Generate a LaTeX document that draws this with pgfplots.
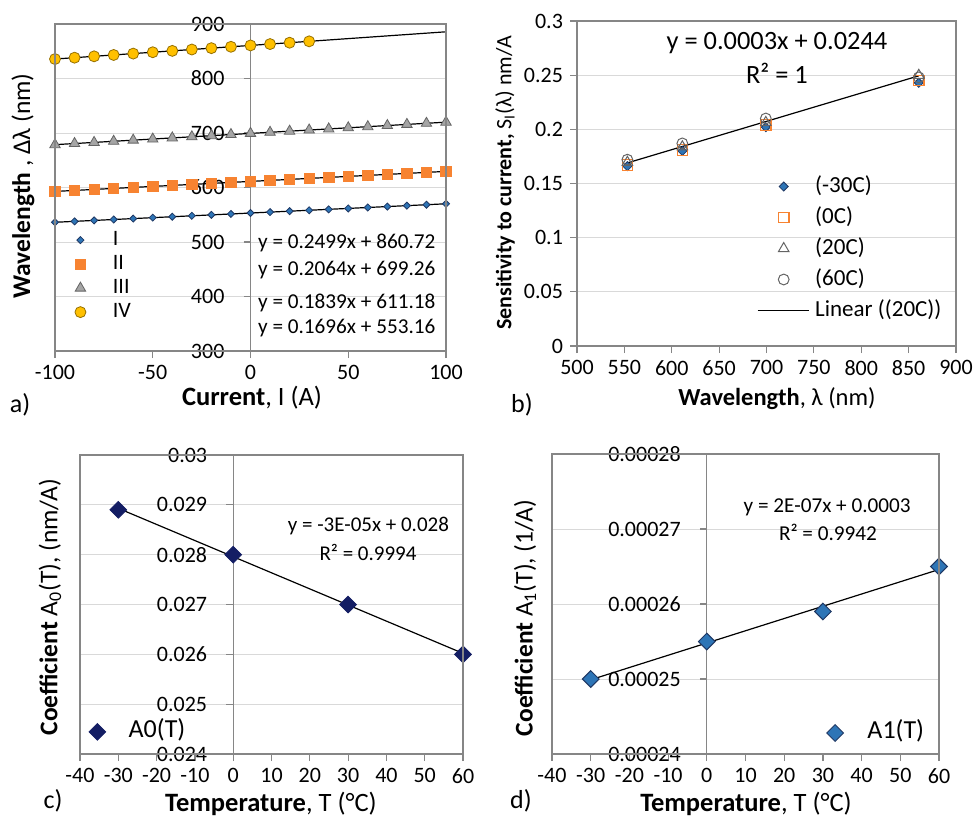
\documentclass[border=0pt]{standalone}
\usepackage{fontspec}
\setmainfont{Carlito}
\usepackage{pgfplots}
\pgfplotsset{compat=1.18}

\definecolor{axgray}{RGB}{134,134,134}
\definecolor{gridgray}{RGB}{217,217,217}
\definecolor{blueA}{RGB}{46,117,182}
\definecolor{blueB}{RGB}{31,56,100}
\definecolor{orangeA}{RGB}{247,131,49}
\definecolor{grayA}{RGB}{165,165,165}
\definecolor{grayB}{RGB}{100,100,100}
\definecolor{goldA}{RGB}{255,192,0}
\definecolor{goldB}{RGB}{150,112,0}
\definecolor{navy}{RGB}{20,30,100}

\newcommand{\ticksize}{\fontsize{11}{13}\selectfont}
\newcommand{\labsize}{\fontsize{13.25}{15}\selectfont}
\newcommand{\ylabsize}{\fontsize{12.75}{15}\selectfont}

\pgfplotsset{
  excelbase/.style={
    scale only axis, clip=false,
    axis line style={-, axgray, line width=0.6pt},
    major tick style={axgray, line width=0.6pt},
    major tick length=3.5pt,
    ymajorgrids, grid style={gridgray, line width=0.5pt},
    tick label style={font=\ticksize, text=black},
    x tick label style={yshift=-2.5pt, inner ysep=1pt},
    /pgf/number format/assume math mode=true,
    scaled ticks=false,
    legend cell align=left,
    legend style={draw=none, fill=none, inner sep=0pt, outer sep=0pt,
      column sep=7pt,
      nodes={inner sep=0pt, text height=8pt, text depth=2.5pt}},
  },
  crossaxis/.style={excelbase,
    axis x line=bottom, axis y line=middle,
    every inner y axis line/.append style={-},
    every outer x axis line/.append style={-},
    hide obscured x ticks=false, hide obscured y ticks=false,
    xtick align=outside, ytick align=outside,
    y tick label style={xshift=-6pt},
    after end axis/.code={\draw[axgray, line width=0.6pt]
      (rel axis cs:0,0) rectangle (rel axis cs:1,1);},
  },
  trend/.style={black, line width=0.6pt, forget plot},
  longline legend/.style={legend image code/.code={\draw[##1] (-4.5pt,0pt) -- (21pt,0pt);}},
}
\tikzset{axtitle/.style={inner sep=0pt, outer sep=0pt}}

\begin{document}
\begin{tikzpicture}
\path[use as bounding box] (0pt,0pt) rectangle (486.5pt,408pt);

% ---------------- a) wavelength vs current ----------------
\begin{axis}[crossaxis, at={(27.5pt,232.5pt)}, anchor=south west,
  width=195.5pt, height=163.5pt,
  xmin=-100, xmax=100, ymin=300, ymax=900,
  xtick={-100,-50,0,50,100}, ytick={300,400,500,600,700,800,900},
  legend style={at={(0.051,0.229)}, anchor=west, font=\ticksize,
    row sep=1.5pt, column sep=13.5pt}]
\addplot[only marks, mark=square*, mark size=1.25pt,
  mark options={rotate=45, fill=blueA, draw=blueB, line width=0.4pt}] table {
x y
-100 536.2
-90 537.9
-80 539.6
-70 541.3
-60 543.0
-50 544.7
-40 546.4
-30 548.1
-20 549.8
-10 551.5
0 553.2
10 554.9
20 556.6
30 558.2
40 559.9
50 561.6
60 563.3
70 565.0
80 566.7
90 568.4
100 570.1
};
\addlegendentry{I}
\addplot[only marks, mark=square*, mark size=2.6pt,
  mark options={fill=orangeA, draw=orangeA}] table {
x y
-100 592.8
-90 594.6
-80 596.5
-70 598.3
-60 600.1
-50 602.0
-40 603.8
-30 605.7
-20 607.5
-10 609.3
0 611.2
10 613.0
20 614.9
30 616.7
40 618.5
50 620.4
60 622.2
70 624.1
80 625.9
90 627.7
100 629.6
};
\addlegendentry{II}
\addplot[only marks, mark=triangle*, mark size=3pt,
  mark options={fill=grayA, draw=grayB, line width=0.4pt}] table {
x y
-100 678.6
-90 680.7
-80 682.7
-70 684.8
-60 686.9
-50 688.9
-40 691.0
-30 693.1
-20 695.1
-10 697.2
0 699.3
10 701.3
20 703.4
30 705.5
40 707.5
50 709.6
60 711.6
70 713.7
80 715.8
90 717.8
100 719.9
};
\addlegendentry{III}
\addplot[only marks, mark=*, mark size=2.75pt,
  mark options={fill=goldA, draw=goldB, line width=0.4pt}] table {
x y
-100 835.7
-90 838.2
-80 840.7
-70 843.2
-60 845.7
-50 848.2
-40 850.7
-30 853.2
-20 855.7
-10 858.2
0 860.7
10 863.2
20 865.7
30 868.2
};
\addlegendentry{IV}
\addplot[trend] coordinates {(-100,536.20) (100,570.12)};
\addplot[trend] coordinates {(-100,592.79) (100,629.57)};
\addplot[trend] coordinates {(-100,678.62) (100,719.90)};
\addplot[trend] coordinates {(-100,835.73) (100,885.71)};
\node[anchor=west, font=\fontsize{10.6}{12}\selectfont] at (axis cs:0.3,498) {y = 0.2499x + 860.72};
\node[anchor=west, font=\fontsize{10.6}{12}\selectfont] at (axis cs:0.3,449) {y = 0.2064x + 699.26};
\node[anchor=west, font=\fontsize{10.6}{12}\selectfont] at (axis cs:0.3,388) {y = 0.1839x + 611.18};
\node[anchor=west, font=\fontsize{10.6}{12}\selectfont] at (axis cs:0.3,342) {y = 0.1696x + 553.16};
\end{axis}

% ---------------- b) sensitivity vs wavelength ----------------
\begin{axis}[excelbase, at={(288.5pt,235pt)}, anchor=south west,
  width=189.5pt, height=162.5pt,
  xmin=500, xmax=900, ymin=0, ymax=0.3,
  xtick={500,550,600,650,700,750,800,850,900},
  ytick={0,0.05,0.1,0.15,0.2,0.25,0.3},
  tick pos=left, tick align=outside,
  y tick label style={/pgf/number format/.cd, fixed, precision=2},
  legend style={at={(0.475,0.30)}, anchor=west, font=\fontsize{11.5}{13}\selectfont,
    row sep=5pt, column sep=3pt}]
\addplot[only marks, mark=square*, mark size=1.6pt,
  mark options={rotate=45, fill=blueA, draw=blueB, line width=0.4pt}] table {
x y
553.16 0.166
611.18 0.180
699.26 0.202
860.72 0.243
};
\addlegendentry{(-30C)}
\addplot[only marks, mark=square, mark size=2.6pt,
  mark options={draw=orangeA, fill=white, line width=0.6pt}] table {
x y
553.16 0.167
611.18 0.181
699.26 0.204
860.72 0.245
};
\addlegendentry{(0C)}
\addplot[only marks, mark=triangle, mark size=3pt,
  mark options={draw=grayB, fill=white, line width=0.5pt}] table {
x y
553.16 0.1696
611.18 0.1839
699.26 0.2064
860.72 0.2499
};
\addlegendentry{(20C)}
\addplot[only marks, mark=o, mark size=2.7pt,
  mark options={draw=grayB, fill=white, line width=0.5pt}] table {
x y
553.16 0.172
611.18 0.187
699.26 0.210
860.72 0.248
};
\addlegendentry{(60C)}
\addplot[black, line width=0.6pt, longline legend]
  coordinates {(553.16,0.1690) (860.72,0.2494)};
\addlegendentry{Linear ((20C))}
\node[font=\fontsize{13.2}{15}\selectfont] at (axis cs:711,0.2795) {y = 0.0003x + 0.0244};
\node[font=\fontsize{13.2}{15}\selectfont] at (axis cs:711,0.2518) {R² = 1};
\end{axis}

% ---------------- c) coefficient A0 vs temperature ----------------
\begin{axis}[crossaxis, at={(40pt,31pt)}, anchor=south west,
  width=191.5pt, height=149.5pt,
  xmin=-40, xmax=60, ymin=0.024, ymax=0.03,
  xtick={-40,-30,-20,-10,0,10,20,30,40,50,60},
  ytick={0.024,0.025,0.026,0.027,0.028,0.029,0.03},
  y tick label style={/pgf/number format/.cd, fixed, precision=3},
  legend style={at={(0.0235,0.074)}, anchor=west, font=\fontsize{13}{15}\selectfont,
    column sep=11.5pt}]
\addplot[only marks, mark=square*, mark size=2.95pt,
  mark options={rotate=45, fill=navy, draw=navy}] table {
x y
-30 0.0289
0 0.0280
30 0.0270
60 0.0260
};
\addlegendentry{A0(T)}
\addplot[trend] coordinates {(-30,0.02893) (60,0.02602)};
\node[font=\fontsize{10.5}{12}\selectfont] at (axis cs:35.3,0.02858) {y = -3E-05x + 0.028};
\node[font=\fontsize{10.5}{12}\selectfont] at (axis cs:35.2,0.02805) {R² = 0.9994};
\end{axis}

% ---------------- d) coefficient A1 vs temperature ----------------
\begin{axis}[crossaxis, at={(276pt,31pt)}, anchor=south west,
  width=193.5pt, height=150pt,
  xmin=-40, xmax=60, ymin=0.00024, ymax=0.00028,
  xtick={-40,-30,-20,-10,0,10,20,30,40,50,60},
  ytick={0.00024,0.00025,0.00026,0.00027,0.00028},
  y tick label style={/pgf/number format/.cd, fixed, precision=5},
  legend style={at={(0.71,0.07)}, anchor=west, font=\fontsize{13}{15}\selectfont,
    column sep=12pt}]
\addplot[only marks, mark=square*, mark size=2.95pt,
  mark options={rotate=45, fill=blueA, draw=blueB, line width=0.5pt}] table {
x y
-30 0.000250
0 0.000255
30 0.000259
60 0.000265
};
\addlegendentry{A1(T)}
\addplot[trend] coordinates {(-30,0.0002499) (60,0.0002646)};
\node[font=\fontsize{10.6}{12}\selectfont] at (axis cs:31.1,0.0002729) {y = 2E-07x + 0.0003};
\node[font=\fontsize{10.6}{12}\selectfont] at (axis cs:31.3,0.0002696) {R² = 0.9942};
\end{axis}

% ---------------- axis titles and panel letters ----------------
\node[axtitle, rotate=90, font=\ylabsize] at (11.5pt,315pt) {\textbf{Wavelength} , Δλ (nm)};
\node[axtitle, font=\labsize] at (126pt,209pt) {\textbf{Current}, I (A)};
\node[axtitle, rotate=90, font=\fontsize{11}{13}\selectfont] at (252.5pt,316.5pt) {\textbf{Sensitivity to current,} S\textsubscript{I}(λ) nm/A};
\node[axtitle, font=\fontsize{12.25}{14}\selectfont] at (388.5pt,208.5pt) {\textbf{Wavelength}, λ (nm)};
\node[axtitle, rotate=90, font=\ylabsize] at (25pt,104.5pt) {\textbf{Coefficient} A\textsubscript{0}(T), (nm/A)};
\node[axtitle, font=\labsize] at (135.5pt,6pt) {\textbf{Temperature}, T (°C)};
\node[axtitle, rotate=90, font=\ylabsize] at (262.5pt,99pt) {\textbf{Coefficient} A\textsubscript{1}(T), (1/A)};
\node[axtitle, font=\labsize] at (373pt,6pt) {\textbf{Temperature}, T (°C)};

\node[axtitle, font=\fontsize{13}{15}\selectfont] at (10pt,205.5pt) {a)};
\node[axtitle, font=\fontsize{13}{15}\selectfont] at (261pt,205.5pt) {b)};
\node[axtitle, font=\fontsize{13}{15}\selectfont] at (26.5pt,7.5pt) {c)};
\node[axtitle, font=\fontsize{13}{15}\selectfont] at (260.5pt,7.5pt) {d)};
\end{tikzpicture}
\end{document}
